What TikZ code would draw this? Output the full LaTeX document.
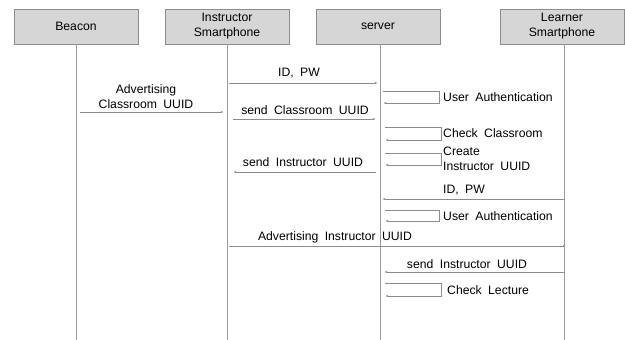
\documentclass[tikz,border=0pt]{standalone}
\usepackage{fontspec}
\setmainfont[WordSpace=1.9]{Liberation Sans}
\usepackage{tikz}
\usetikzlibrary{positioning,arrows.meta}

\begin{document}
\begin{tikzpicture}[x=1pt,y=-1pt,font=\fontsize{12.2}{15}\selectfont,
  actor/.style={draw=black!45,fill=black!16,minimum width=124pt,minimum height=35pt,inner sep=0pt,align=center},
  life/.style={draw=black!40,line width=0.7pt},
  msg/.style={draw=black!45,line width=0.7pt,-{Latex[length=3pt,width=2pt]}},
  lbl/.style={inner sep=0pt}]
\useasboundingbox (0,0) rectangle (625,340);
% actors
\node [actor] (beacon) at (76,26.5) {Beacon};
\node [actor] (inst) at (227,26.5) {Instructor\\Smartphone};
\node [actor] (server) at (378,26.5) {server};
\node [actor] (learner) at (562,26.5) {Learner\\Smartphone};
\coordinate (beaconEnd) at (76,340);
\coordinate (instEnd) at (227,340);
\coordinate (serverEnd) at (380,340);
\coordinate (learnerEnd) at (564,340);
\coordinate (serverTop) at (380,44);
\coordinate (learnerTop) at (564,44);
\draw [life] (beacon.south) -- (beaconEnd);
\draw [life] (inst.south) -- (instEnd);
\draw [life] (serverTop) -- (serverEnd);
\draw [life] (learnerTop) -- (learnerEnd);
% instructor login
\coordinate (idA) at (229,83);
\coordinate (idB) at (378,83);
\draw [msg] (idA) -- (idB);
\node [lbl] (idLbl) at (299,73) {ID, PW};
\coordinate (ua1a) at (383,91);
\coordinate (ua1b) at (439,91);
\coordinate (ua1c) at (383,103);
\draw [msg] (ua1a) -- (ua1b) |- (ua1c);
\node [lbl,anchor=west] (ua1Lbl) at (443,97) {User Authentication};
% beacon advertising
\coordinate (advA) at (80,112);
\coordinate (advB) at (224,112);
\draw [msg] (advA) -- (advB);
\node [lbl,align=center] (advLbl) at (146,97) {Advertising\\Classroom UUID};
\coordinate (scA) at (233,119);
\coordinate (scB) at (376,119);
\draw [msg] (scA) -- (scB);
\node [lbl] (scLbl) at (305,110) {send Classroom UUID};
\coordinate (ccA) at (385,127);
\coordinate (ccB) at (441,127);
\coordinate (ccC) at (385,140);
\draw [msg] (ccA) -- (ccB) |- (ccC);
\node [lbl,anchor=west] (ccLbl) at (443,133) {Check Classroom};
\coordinate (ciA) at (385,153);
\coordinate (ciB) at (441,153);
\coordinate (ciC) at (385,165);
\draw [msg] (ciA) -- (ciB) |- (ciC);
\node [lbl,anchor=west,align=left] (ciLbl) at (443,159) {Create\\Instructor UUID};
\coordinate (siA) at (376,172);
\coordinate (siB) at (233,172);
\draw [msg] (siA) -- (siB);
\node [lbl] (siLbl) at (303,162) {send Instructor UUID};
% learner login
\coordinate (lidA) at (564,199);
\coordinate (lidB) at (382,199);
\draw [msg] (lidA) -- (lidB);
\node [lbl,anchor=west] (lidLbl) at (443,190) {ID, PW};
\coordinate (ua2a) at (385,210);
\coordinate (ua2b) at (439,210);
\coordinate (ua2c) at (385,221);
\draw [msg] (ua2a) -- (ua2b) |- (ua2c);
\node [lbl,anchor=west] (ua2Lbl) at (443,216) {User Authentication};
\coordinate (aiA) at (229,246);
\coordinate (aiB) at (566,246);
\draw [msg] (aiA) -- (aiB);
\node [lbl] (aiLbl) at (335,237) {Advertising Instructor UUID};
\coordinate (si2A) at (564,272);
\coordinate (si2B) at (384,272);
\draw [msg] (si2A) -- (si2B);
\node [lbl] (si2Lbl) at (467,264) {send Instructor UUID};
\coordinate (clA) at (385,283);
\coordinate (clB) at (441,283);
\coordinate (clC) at (385,296);
\draw [msg] (clA) -- (clB) |- (clC);
\node [lbl,anchor=west] (clLbl) at (447,290) {Check Lecture};
\end{tikzpicture}
\end{document}
